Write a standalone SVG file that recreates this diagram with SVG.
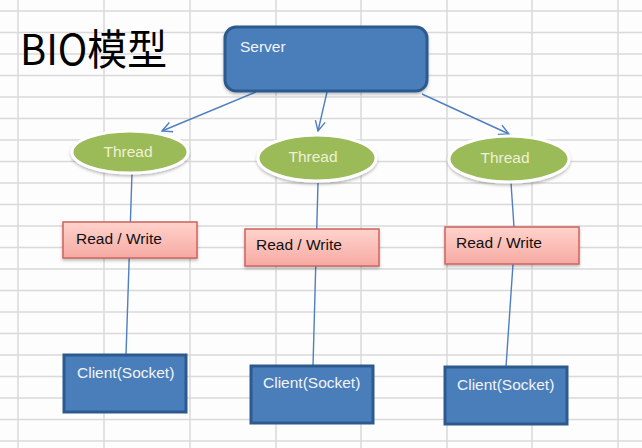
<svg xmlns="http://www.w3.org/2000/svg" width="642" height="448" viewBox="0 0 642 448">
<defs>
<style>
.grid line{stroke:#d9d9d9;stroke-width:1.5}
.conn{fill:none;stroke:#4f7fbf;stroke-width:1.4}
.thread{fill:#9bbb59;stroke:#ffffff;stroke-width:3}
.rw{fill:url(#rwg);stroke:#d0625b;stroke-width:1.5}
.blue{fill:#4a7ebb;stroke:#2c5a8e;stroke-width:3}
.t{font-family:"Liberation Sans",Arial,sans-serif;font-size:15.5px}
.tt{fill:#eef0d6;text-anchor:middle}
.tw{fill:#f2f4f8}
.tb{fill:#111111}
</style>
<linearGradient id="rwg" x1="0" y1="0" x2="0" y2="1">
<stop offset="0" stop-color="#ffd3cc"/>
<stop offset="1" stop-color="#f6aaa3"/>
</linearGradient>
<filter id="sh" x="-20%" y="-20%" width="140%" height="150%">
<feDropShadow dx="0" dy="2" stdDeviation="1.5" flood-color="#000" flood-opacity="0.25"/>
</filter>
<marker id="arr" viewBox="0 0 12 12" refX="11" refY="6" markerWidth="12" markerHeight="12" markerUnits="userSpaceOnUse" orient="auto">
<path d="M1,1 L11,6 L1,11" fill="none" stroke="#4f7fbf" stroke-width="1.4"/>
</marker>
</defs>
<rect width="642" height="448" fill="#fdfdfd"/>
<g class="grid">
<line x1="18" y1="0" x2="18" y2="448"/>
<line x1="104" y1="0" x2="104" y2="448"/>
<line x1="190" y1="0" x2="190" y2="448"/>
<line x1="276" y1="0" x2="276" y2="448"/>
<line x1="361" y1="0" x2="361" y2="448"/>
<line x1="447" y1="0" x2="447" y2="448"/>
<line x1="532" y1="0" x2="532" y2="448"/>
<line x1="618" y1="0" x2="618" y2="448"/>
<line x1="0" y1="11" x2="642" y2="11"/>
<line x1="0" y1="32.5" x2="642" y2="32.5"/>
<line x1="0" y1="54" x2="642" y2="54"/>
<line x1="0" y1="75.5" x2="642" y2="75.5"/>
<line x1="0" y1="97" x2="642" y2="97"/>
<line x1="0" y1="118.5" x2="642" y2="118.5"/>
<line x1="0" y1="140" x2="642" y2="140"/>
<line x1="0" y1="161.5" x2="642" y2="161.5"/>
<line x1="0" y1="183" x2="642" y2="183"/>
<line x1="0" y1="204.5" x2="642" y2="204.5"/>
<line x1="0" y1="226" x2="642" y2="226"/>
<line x1="0" y1="247.5" x2="642" y2="247.5"/>
<line x1="0" y1="269" x2="642" y2="269"/>
<line x1="0" y1="290.5" x2="642" y2="290.5"/>
<line x1="0" y1="312" x2="642" y2="312"/>
<line x1="0" y1="333.5" x2="642" y2="333.5"/>
<line x1="0" y1="355" x2="642" y2="355"/>
<line x1="0" y1="376.5" x2="642" y2="376.5"/>
<line x1="0" y1="398" x2="642" y2="398"/>
<line x1="0" y1="419.5" x2="642" y2="419.5"/>
<line x1="0" y1="441" x2="642" y2="441"/>
</g>
<text x="20" y="65" font-family="'Noto Sans CJK SC','Noto Sans',sans-serif" font-size="42" textLength="147" lengthAdjust="spacingAndGlyphs" fill="#000">BIO模型</text>
<g id="connectors">
<line class="conn" x1="256" y1="92" x2="162" y2="131" marker-end="url(#arr)"/>
<line class="conn" x1="327" y1="92" x2="318" y2="131" marker-end="url(#arr)"/>
<line class="conn" x1="422" y1="94" x2="509" y2="134" marker-end="url(#arr)"/>
<line class="conn" x1="132" y1="173" x2="126" y2="355"/>
<line class="conn" x1="318" y1="183" x2="313" y2="366"/>
<polyline class="conn" points="511,183 514,227 513,264 506,367"/>
</g>
<g id="server">
<rect class="blue" x="225" y="27" width="202" height="64" rx="11" filter="url(#sh)"/>
<text class="t tw" x="240" y="52">Server</text>
</g>
<g id="thread1">
<ellipse class="thread" cx="130" cy="152" rx="58" ry="21" filter="url(#sh)"/>
<text class="t tt" x="128" y="157">Thread</text>
</g>
<g id="thread2">
<ellipse class="thread" cx="317" cy="158" rx="59" ry="23" filter="url(#sh)"/>
<text class="t tt" x="313" y="162">Thread</text>
</g>
<g id="thread3">
<ellipse class="thread" cx="509" cy="159" rx="60" ry="23" filter="url(#sh)"/>
<text class="t tt" x="505" y="163">Thread</text>
</g>
<g id="rw1">
<rect class="rw" x="63" y="222" width="134" height="36" filter="url(#sh)"/>
<text class="t tb" x="76" y="244">Read / Write</text>
</g>
<g id="rw2">
<rect class="rw" x="245" y="229" width="134" height="37" filter="url(#sh)"/>
<text class="t tb" x="256" y="250">Read / Write</text>
</g>
<g id="rw3">
<rect class="rw" x="445" y="227" width="134" height="37" filter="url(#sh)"/>
<text class="t tb" x="456" y="248">Read / Write</text>
</g>
<g id="client1">
<rect class="blue" x="64" y="355" width="122" height="57"/>
<text class="t tw" x="77" y="378">Client(Socket)</text>
</g>
<g id="client2">
<rect class="blue" x="251" y="366" width="122" height="57"/>
<text class="t tw" x="263" y="388">Client(Socket)</text>
</g>
<g id="client3">
<rect class="blue" x="445" y="367" width="122" height="57"/>
<text class="t tw" x="457" y="390">Client(Socket)</text>
</g>
</svg>
